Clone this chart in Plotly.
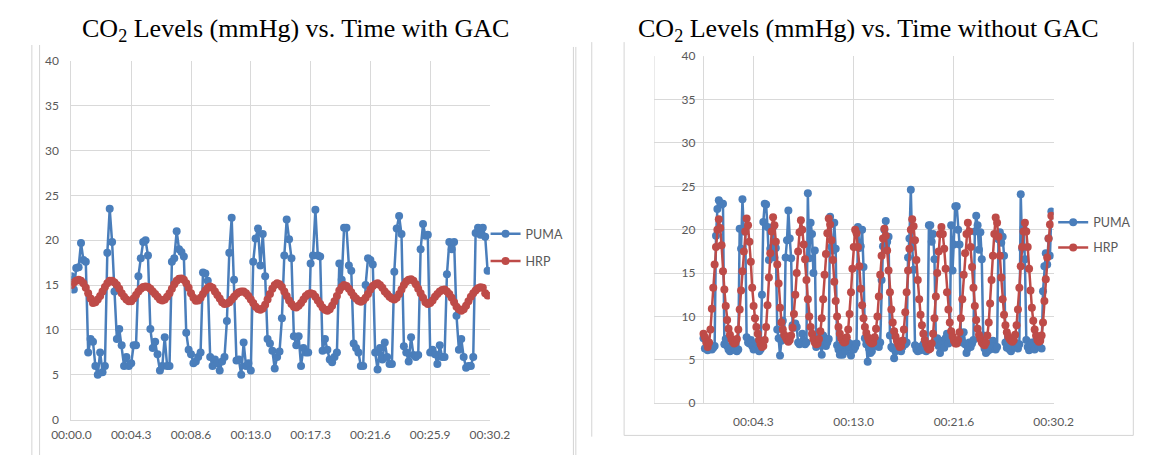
import numpy as np
import plotly.graph_objects as go

W, H = 1154, 455
OFF = 8  # the page body margin shifts the figure by 8 px

# with GAC: samples every ~0.173 s from 00:00.0
puma_gac = [
    16.0, 14.5, 16.9, 17.0, 19.7, 17.8, 17.6, 7.5, 9.0, 8.7,
    6.0, 5.0, 7.5, 5.3, 6.0, 18.6, 23.5, 19.8, 14.3, 9.0,
    10.1, 8.3, 6.0, 7.0, 6.0, 6.3, 8.3, 8.3, 16.0, 18.0,
    19.8, 20.0, 18.3, 10.1, 8.0, 8.7, 7.3, 5.5, 6.0, 9.2,
    6.0, 6.0, 17.6, 18.0, 21.0, 19.0, 18.7, 18.2, 9.7, 7.8,
    7.3, 6.3, 6.5, 7.0, 7.5, 16.4, 16.3, 15.5, 7.0, 6.0,
    6.7, 6.3, 5.5, 6.5, 7.0, 11.0, 18.6, 22.5, 15.6, 6.6,
    6.7, 5.0, 8.6, 6.0, 6.3, 5.5, 17.6, 20.2, 21.3, 17.2,
    20.7, 16.0, 9.0, 8.5, 7.7, 5.7, 7.0, 7.6, 11.3, 18.3,
    22.3, 20.1, 18.0, 9.3, 8.3, 9.3, 6.0, 8.0, 7.5, 7.5,
    17.4, 18.3, 23.4, 18.3, 18.2, 7.7, 9.0, 7.8, 6.7, 6.4,
    7.0, 7.5, 17.4, 15.6, 21.4, 21.4, 17.2, 16.6, 8.5, 8.0,
    7.5, 6.0, 6.0, 15.0, 18.0, 17.8, 17.3, 7.5, 5.6, 8.0,
    6.7, 8.6, 7.0, 6.2, 6.2, 16.5, 21.3, 22.7, 20.7, 8.2,
    7.5, 6.5, 9.2, 7.2, 7.0, 7.2, 19.0, 21.8, 20.5, 20.6,
    7.5, 7.8, 7.3, 6.2, 8.3, 7.0, 7.0, 16.2, 19.8, 19.0,
    19.8, 11.6, 7.8, 9.0, 7.0, 5.8, 6.0, 6.0, 7.0, 20.8,
    21.4, 20.6, 21.4, 20.4, 16.6,
]
hrp_gac = [
    15.0, 15.3, 15.5, 15.6, 15.5, 15.2, 14.7, 14.1, 13.5, 13.0,
    13.1, 13.4, 13.8, 14.3, 14.8, 15.2, 15.5, 15.5, 15.3, 15.0,
    14.6, 14.1, 13.7, 13.4, 13.2, 13.2, 13.5, 13.9, 14.3, 14.6,
    14.8, 14.85, 14.8, 14.6, 14.3, 14.0, 13.7, 13.4, 13.3, 13.4,
    13.7, 14.1, 14.6, 15.1, 15.5, 15.7, 15.75, 15.6, 15.2, 14.7,
    14.1, 13.6, 13.25, 13.3, 13.6, 14.0, 14.4, 14.7, 14.85, 14.7,
    14.3, 13.9, 13.5, 13.1, 12.9, 12.95, 13.1, 13.4, 13.7, 14.0,
    14.2, 14.3, 14.3, 14.1, 13.8, 13.4, 13.0, 12.6, 12.35, 12.25,
    12.4, 12.8, 13.4, 14.0, 14.6, 15.0, 15.2, 15.1, 14.8, 14.3,
    13.8, 13.3, 12.9, 12.6, 12.5, 12.7, 13.0, 13.4, 13.8, 14.0,
    14.1, 14.0, 13.7, 13.3, 12.9, 12.5, 12.25, 12.15, 12.3, 12.7,
    13.2, 13.8, 14.4, 14.8, 15.0, 14.9, 14.6, 14.2, 13.8, 13.5,
    13.25, 13.15, 13.3, 13.6, 14.0, 14.5, 14.9, 15.1, 15.2, 15.0,
    14.7, 14.3, 14.0, 13.7, 13.5, 13.4, 13.6, 14.0, 14.5, 15.0,
    15.4, 15.6, 15.65, 15.5, 15.1, 14.6, 14.1, 13.6, 13.1, 12.9,
    13.0, 13.3, 13.7, 14.0, 14.3, 14.45, 14.5, 14.3, 14.0, 13.6,
    13.1, 12.6, 12.3, 12.15, 12.3, 12.7, 13.2, 13.7, 14.1, 14.4,
    14.65, 14.75, 14.7, 14.1, 13.85,
]
dt_gac = 0.1726
ticks_gac = ["00:00.0", "00:04.3", "00:08.6", "00:13.0",
             "00:17.3", "00:21.6", "00:25.9", "00:30.2"]

# without GAC: samples every 0.12 s from 00:00.0
puma_no_gac = [
    7.5, 6.3, 7.3, 6.1, 6.9, 6.6, 6.2, 6.4, 6.6,
    19.3, 22.4, 23.4, 23.1, 22.9, 23.0,
    6.8, 7.4, 6.6, 6.2, 6.0, 6.4, 7.2, 6.3, 6.1, 6.0, 6.2,
    20.1, 17.8, 23.5, 19.8, 20.0,
    7.6, 7.0, 6.9, 7.3, 6.6, 6.2, 6.3, 6.8, 7.1, 6.0, 6.2,
    12.5, 20.9, 23.0, 22.9, 20.3, 16.5, 17.8, 17.9, 20.3, 16.8, 17.9,
    8.5, 7.5, 5.5, 7.2, 9.5, 7.7,
    16.8, 18.8, 22.2, 19.0, 16.7,
    9.0, 8.7, 9.2, 8.8, 7.0, 6.8, 7.0, 8.0, 7.3, 6.8, 7.0,
    24.2, 16.7, 20.8, 19.5, 15.0, 17.6,
    6.5, 7.6, 7.2, 6.8, 5.6, 7.8, 7.5, 6.6, 7.0, 7.4,
    21.5, 18.0, 17.6, 20.8, 17.8,
    6.7, 6.2, 5.6, 6.5, 5.6, 7.3, 6.0, 6.5, 7.0, 6.5, 5.5, 6.8, 6.2, 6.5, 6.9,
    20.3, 17.9, 18.1, 20.0, 15.7,
    7.5, 6.8, 4.8, 6.3, 5.8, 6.0, 7.0, 6.6, 7.3, 6.9, 6.5, 7.0,
    14.2, 18.1, 20.0, 21.0, 18.6, 19.2,
    7.8, 6.5, 6.3, 5.2, 6.0, 6.4, 7.0, 6.6, 6.0, 6.5, 7.2, 6.8, 7.0,
    16.8, 19.0, 24.6, 18.0, 15.4,
    6.7, 6.2, 6.0, 6.5, 6.1, 6.3, 6.8, 6.2, 6.0, 6.6,
    20.5, 20.5, 18.6, 19.5, 16.6,
    7.0, 7.5, 6.6, 5.8, 6.8, 7.2, 6.4, 7.5, 8.0, 6.9, 7.3,
    20.5, 15.3, 18.3, 22.7, 22.7, 20.0, 18.3,
    7.3, 7.0, 8.2, 6.8, 5.8, 6.3, 7.0, 6.5, 6.9, 7.3,
    19.8, 21.6, 20.5, 17.7, 19.7, 16.6,
    7.8, 6.3, 5.8, 6.0, 6.5, 6.2, 6.8, 7.2, 6.6, 6.2, 6.5,
    18.9, 19.7, 18.5, 19.2, 17.0,
    7.0, 6.4, 6.8, 6.2, 6.0, 6.6, 7.1, 6.5, 6.9, 6.3, 6.8,
    24.1, 17.8, 20.2, 16.6,
    7.3, 6.5, 6.1, 6.8, 7.0, 6.6, 6.2, 7.2, 6.8, 6.5, 7.4, 6.3,
    12.9, 15.8, 17.3, 16.0, 19.0, 17.0, 22.1,
]
hrp_no_gac = [
    8.0, 7.6, 7.0, 6.5, 7.0, 8.5, 10.9, 13.3, 16.0, 18.0, 20.0,
    21.2, 20.2, 18.2, 15.2, 13.1, 11.2, 9.6, 8.6, 7.9, 7.4,
    7.1, 6.9, 7.0, 7.4, 8.5, 10.8, 13.0, 15.2, 17.5, 19.8,
    21.3, 20.5, 18.6, 16.3, 13.3, 11.2, 9.8, 8.8, 8.0, 7.3,
    6.8, 6.5, 6.6, 7.3, 8.8, 11.3, 14.5, 17.3, 19.8,
    21.45, 20.5, 18.6, 16.0, 13.8, 11.0, 9.3, 8.5, 7.9, 7.6,
    7.3, 7.1, 7.3, 7.8, 8.7, 10.3, 12.5, 15.0, 17.5, 19.7,
    21.1, 20.0, 18.3, 16.6, 14.2, 12.0, 10.0, 8.8, 8.0, 7.4,
    7.0, 6.8, 6.9, 7.4, 8.3, 9.8, 12.0, 14.8, 17.2, 19.6,
    21.3, 20.6, 18.8, 16.5, 14.0, 11.8, 10.0, 8.8, 8.0, 7.5,
    7.2, 7.0, 7.1, 7.6, 8.5, 10.3, 12.8, 15.5, 18.0,
    20.0, 19.6, 18.0, 15.8, 13.2, 11.3, 9.8, 8.8, 8.1, 7.6,
    7.2, 7.0, 6.9, 7.0, 7.6, 8.6, 10.0, 12.3, 14.8, 17.0, 19.0,
    20.1, 19.3, 17.6, 15.3, 12.8, 10.8, 9.3, 8.3, 7.7, 7.2,
    6.8, 6.5, 6.6, 7.2, 8.5, 10.5, 12.8, 15.3, 17.8, 20.0,
    21.2, 20.4, 18.8, 16.5, 14.2, 12.0, 10.2, 9.0, 8.0, 7.3,
    6.8, 6.4, 6.2, 6.3, 6.9, 8.0, 9.8, 12.3, 15.0, 17.5, 19.5,
    20.3, 19.5, 17.8, 15.5, 12.8, 10.8, 9.3, 8.3, 7.7, 7.2,
    6.9, 6.9, 7.3, 8.2, 9.8, 12.0, 14.8, 17.3, 19.5,
    20.8, 19.8, 18.0, 15.7, 13.3, 11.2, 9.6, 8.6, 7.9, 7.4,
    7.0, 6.8, 6.7, 7.0, 7.8, 9.3, 11.5, 14.2, 17.0, 19.5,
    21.4, 20.8, 19.2, 17.0, 14.5, 12.0, 10.2, 9.0, 8.2, 7.7,
    7.4, 7.2, 7.1, 7.3, 7.9, 9.0, 10.8, 13.3, 15.8, 18.0, 19.8,
    20.8, 19.8, 18.0, 15.5, 13.0, 11.0, 9.5, 8.5, 7.8, 7.3,
    7.1, 7.2, 7.8, 9.3, 11.8, 14.3, 16.8, 19.0, 20.6, 21.6,
]
dt_no_gac = 0.12
ticks_no_gac = ["00:04.3", "00:13.0", "00:21.6", "00:30.2"]

BLUE = "#4A7EBB"
RED = "#BE4B48"
GRID = "#D9D9D9"
BOX = "#D4D4D4"
TICK_FONT = dict(family="Lato", size=12, color="#595959")


def px_x(v):
    return (v - OFF) / W


def px_y(v):
    return 1 - (v - OFF) / H


fig = go.Figure()


def add_series(puma, hrp, dt, xref, yref, legend):
    for name, vals, color in (("PUMA", puma, BLUE), ("HRP", hrp, RED)):
        t = np.arange(len(vals)) * dt
        fig.add_trace(go.Scatter(x=t, y=vals, name=name, mode="lines+markers",
                                 xaxis=xref, yaxis=yref, legend=legend,
                                 legendgroup=name + xref,
                                 line=dict(color=color, width=2.5),
                                 marker=dict(color=color, size=8)))


add_series(puma_gac, hrp_gac, dt_gac, "x", "y", "legend")
add_series(puma_no_gac, hrp_no_gac, dt_no_gac, "x2", "y2", "legend2")

axis_common = dict(showgrid=True, gridcolor=GRID, gridwidth=1, zeroline=False,
                   ticks="", tickfont=TICK_FONT, fixedrange=True)

fig.update_layout(
    width=W, height=H,
    margin=dict(l=0, r=0, t=0, b=0),
    paper_bgcolor="white", plot_bgcolor="white",
    xaxis=dict(domain=[px_x(53), px_x(486.5)], anchor="y", range=[0, 30.2],
               tickvals=[i * 30.2 / 7 for i in range(len(ticks_gac))],
               ticktext=ticks_gac, showline=True, linecolor=GRID,
               ticklabelstandoff=4, **axis_common),
    yaxis=dict(domain=[px_y(425.5), px_y(54.3)], anchor="x", range=[0, 40],
               dtick=5, showline=True, linecolor=GRID,
               ticklabelstandoff=9, **axis_common),
    xaxis2=dict(domain=[px_x(656.7), px_x(1070.5)], anchor="y2",
                range=[-4.25, 30.2], tickvals=[4.3, 12.95, 21.6, 30.2],
                ticktext=ticks_no_gac, showline=True, linecolor=GRID,
                ticklabelstandoff=7, **axis_common),
    yaxis2=dict(domain=[px_y(408.5), px_y(49.5)], anchor="free",
                position=px_x(707.7), range=[0, 40], dtick=5,
                showline=False, ticklabelstandoff=8, **axis_common),
    legend=dict(x=px_x(482), y=px_y(247.5), xanchor="left", yanchor="middle",
                bgcolor="rgba(0,0,0,0)", traceorder="grouped",
                tracegroupgap=8,
                font=dict(family="Lato", size=12.5, color="#595959")),
    legend2=dict(x=px_x(1070), y=px_y(234.5), xanchor="left",
                 yanchor="middle", bgcolor="rgba(0,0,0,0)",
                 traceorder="grouped", tracegroupgap=6,
                 font=dict(family="Lato", size=12.5, color="#595959")),
)

# the chart without GAC has unlabelled gridlines at its left edge and at 0 s
for x in (-4.25, 0):
    fig.add_shape(type="line", xref="x2", yref="y2 domain", x0=x, x1=x,
                  y0=0, y1=1, layer="below", line=dict(color=GRID, width=1))

title_font = dict(family="Liberation Serif", size=26, color="black")
for text, cx in (("CO<sub>2</sub> Levels (mmHg) vs. Time with GAC", 285),
                 ("CO<sub>2</sub> Levels (mmHg) vs. Time without GAC", 879)):
    fig.add_annotation(text=text, x=px_x(cx), y=px_y(22), xref="paper",
                       yref="paper", xanchor="center", yanchor="middle",
                       showarrow=False, font=title_font)

# frame lines of the two pasted chart areas
frame = [
    (12, 38, 12, H + OFF), (20, 38, 20, H + OFF),
    (573, 40, 573, H + OFF), (575.5, 40, 575.5, H + OFF),
    (592, 35, 592, 443),
    (625.5, 35, 625.5, 441.7), (625.5, 441.7, 1153, 441.7),
    (1153, 35, 1153, 441.7),
]
for x0, y0, x1, y1 in frame:
    fig.add_shape(type="line", xref="paper", yref="paper",
                  x0=px_x(x0), y0=px_y(y0), x1=px_x(x1), y1=px_y(y1),
                  line=dict(color=BOX, width=1))

fig.write_html("out.html")
